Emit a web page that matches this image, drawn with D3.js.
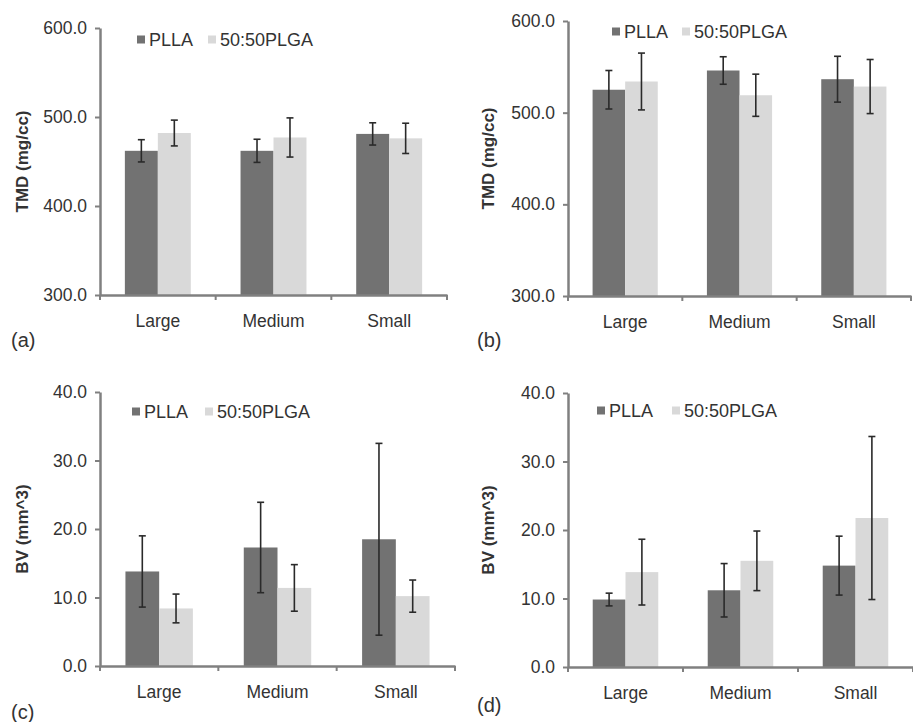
<!DOCTYPE html>
<html>
<head>
<meta charset="utf-8">
<script src="https://cdn.jsdelivr.net/npm/d3@7"></script>
<style>
  body { margin: 0; background: #fff; }
  text { font-family: "Liberation Sans", Arial, sans-serif; fill: #333; }
</style>
</head>
<body>
<script>
// categories and series
var categories = ["Large", "Medium", "Small"]
var seriesNames = ["PLLA", "50:50PLGA"]

// tick values
var tmdTicks = [300, 400, 500, 600]
var bvTicks = [0, 10, 20, 30, 40]

// (a) TMD
var tmdA_plla = [462, 462, 481]
var tmdA_pllaErr = [12.5, 13, 12.5]
var tmdA_plga = [482, 477, 476]
var tmdA_plgaErr = [14.5, 22, 17]

// (b) TMD
var tmdB_plla = [525, 546, 536.5]
var tmdB_pllaErr = [21, 15, 25]
var tmdB_plga = [534, 519, 528.5]
var tmdB_plgaErr = [31, 23, 29.5]

// (c) BV
var bvC_plla = [13.8, 17.3, 18.5]
var bvC_pllaErr = [5.2, 6.6, 14]
var bvC_plga = [8.4, 11.4, 10.2]
var bvC_plgaErr = [2.1, 3.4, 2.35]

// (d) BV
var bvD_plla = [9.85, 11.2, 14.8]
var bvD_pllaErr = [0.93, 3.9, 4.3]
var bvD_plga = [13.85, 15.5, 21.75]
var bvD_plgaErr = [4.8, 4.35, 11.9]

var colors = {"PLLA": "#727272", "50:50PLGA": "#d9d9d9"}

var svg = d3.select("body").append("svg")
  .attr("width", 913)
  .attr("height", 722)

function drawPanel(p) {
  var g = svg.append("g")

  var x0 = d3.scaleBand().domain(categories).range([p.left, p.right])
  var bw = x0.bandwidth()
  var x1 = d3.scaleBand().domain(seriesNames).range([bw * 0.215, bw * 0.785])
  var y = d3.scaleLinear()
    .domain([p.ticks[0], p.ticks[p.ticks.length - 1]])
    .range([p.bottom, p.top])

  var rows = []
  categories.forEach(function(c, i) {
    rows.push({cat: c, name: "PLLA", v: p.plla[i], e: p.pllaErr[i]})
    rows.push({cat: c, name: "50:50PLGA", v: p.plga[i], e: p.plgaErr[i]})
  })

  // bars
  g.selectAll("rect.bar")
    .data(rows)
    .enter()
    .append("rect")
    .attr("class", "bar")
    .attr("x", function(d) { return x0(d.cat) + x1(d.name) })
    .attr("width", x1.bandwidth())
    .attr("y", function(d) { return y(d.v) })
    .attr("height", function(d) { return p.bottom - y(d.v) })
    .attr("fill", function(d) { return colors[d.name] })

  // error bars
  var eb = g.selectAll("g.err")
    .data(rows)
    .enter()
    .append("g")
    .attr("stroke", "#2a2a2a")
    .attr("stroke-width", 1.6)
  function cx(d) { return x0(d.cat) + x1(d.name) + x1.bandwidth() / 2 }
  eb.append("line")
    .attr("x1", cx).attr("x2", cx)
    .attr("y1", function(d) { return y(d.v - d.e) })
    .attr("y2", function(d) { return y(d.v + d.e) })
  eb.append("line")
    .attr("x1", function(d) { return cx(d) - 3.5 })
    .attr("x2", function(d) { return cx(d) + 3.5 })
    .attr("y1", function(d) { return y(d.v + d.e) })
    .attr("y2", function(d) { return y(d.v + d.e) })
  eb.append("line")
    .attr("x1", function(d) { return cx(d) - 3.5 })
    .attr("x2", function(d) { return cx(d) + 3.5 })
    .attr("y1", function(d) { return y(d.v - d.e) })
    .attr("y2", function(d) { return y(d.v - d.e) })

  // y axis
  var yAxis = d3.axisLeft(y)
    .tickValues(p.ticks)
    .tickFormat(d3.format(".1f"))
    .tickSize(5)
    .tickSizeOuter(0)
    .tickPadding(8)
  var ya = g.append("g").attr("transform", "translate(" + p.left + ",0)").call(yAxis)
  ya.select(".domain").attr("stroke", "#808080").attr("stroke-width", 2.5)
  ya.selectAll(".tick line").attr("stroke", "#808080").attr("stroke-width", 2)
  ya.selectAll(".tick text").style("font-size", "17.5px").attr("fill", "#333")

  // x axis: labels from band scale, ticks at band edges
  var xAxis = d3.axisBottom(x0).tickSize(0).tickPadding(20)
  var xa = g.append("g").attr("transform", "translate(0," + p.bottom + ")").call(xAxis)
  xa.select(".domain").attr("stroke", "#808080").attr("stroke-width", 2.5)
  xa.selectAll(".tick text").style("font-size", "17.5px").attr("fill", "#333")
  var edges = categories.map(function(c) { return x0(c) }).concat([p.right])
  g.selectAll("line.edge")
    .data(edges)
    .enter()
    .append("line")
    .attr("x1", function(d) { return d }).attr("x2", function(d) { return d })
    .attr("y1", p.bottom).attr("y2", p.bottom + 5)
    .attr("stroke", "#808080").attr("stroke-width", 2)

  // y title
  g.append("text")
    .attr("transform", "translate(" + p.titleX + "," + (p.top + p.bottom) / 2 + ") rotate(-90)")
    .attr("text-anchor", "middle")
    .attr("dominant-baseline", "central")
    .style("font-size", "17px")
    .style("font-weight", "bold")
    .text(p.title)

  // legend
  var lg = g.append("g").attr("transform", "translate(" + (p.left + p.legendX) + "," + (p.top + p.legendY) + ")")
  var offs = [0, p.legendGap]
  seriesNames.forEach(function(s, i) {
    lg.append("rect")
      .attr("x", offs[i]).attr("y", -10.5)
      .attr("width", 8).attr("height", 8)
      .attr("fill", colors[s])
    lg.append("text")
      .attr("x", offs[i] + 12).attr("y", 0)
      .style("font-size", "18px")
      .text(s)
  })

  // panel label
  g.append("text")
    .attr("x", p.labelX).attr("y", p.labelY)
    .style("font-size", "20px")
    .text(p.label)
}

drawPanel({left: 100, right: 447, top: 28, bottom: 295, ticks: tmdTicks,
  plla: tmdA_plla, pllaErr: tmdA_pllaErr, plga: tmdA_plga, plgaErr: tmdA_plgaErr,
  title: "TMD (mg/cc)", titleX: 22, legendX: 37, legendY: 18, legendGap: 71,
  label: "(a)", labelX: 11, labelY: 347})

drawPanel({left: 568, right: 911, top: 21, bottom: 296, ticks: tmdTicks,
  plla: tmdB_plla, pllaErr: tmdB_pllaErr, plga: tmdB_plga, plgaErr: tmdB_plgaErr,
  title: "TMD (mg/cc)", titleX: 488, legendX: 44, legendY: 17, legendGap: 70,
  label: "(b)", labelX: 477, labelY: 347})

drawPanel({left: 100, right: 455, top: 392, bottom: 666, ticks: bvTicks,
  plla: bvC_plla, pllaErr: bvC_pllaErr, plga: bvC_plga, plgaErr: bvC_plgaErr,
  title: "BV (mm^3)", titleX: 22, legendX: 32, legendY: 26, legendGap: 73,
  label: "(c)", labelX: 11, labelY: 719})

drawPanel({left: 568, right: 913, top: 393, bottom: 667, ticks: bvTicks,
  plla: bvD_plla, pllaErr: bvD_pllaErr, plga: bvD_plga, plgaErr: bvD_plgaErr,
  title: "BV (mm^3)", titleX: 488, legendX: 29, legendY: 24, legendGap: 75,
  label: "(d)", labelX: 477, labelY: 712})
</script>
</body>
</html>
